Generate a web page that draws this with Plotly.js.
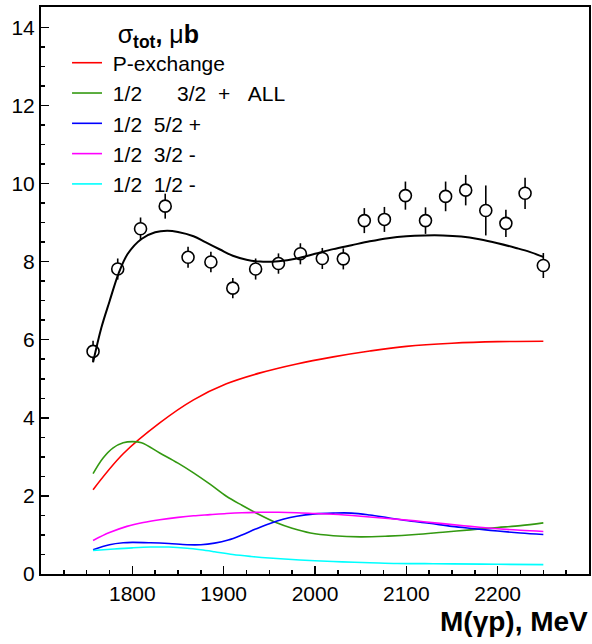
<!DOCTYPE html>
<html>
<head>
<meta charset="utf-8">
<script src="https://cdn.plot.ly/plotly-3.0.1.min.js"></script>
<style>html,body{margin:0;padding:0;background:#fff;}#chart{width:592px;height:644px;}</style>
</head>
<body>
<div id="chart"></div>
<script>
// Measured cross section (data points)
const massPts  = [1757,1784,1809,1836,1861,1886,1910,1935,1960,1984,2008,2031,2054,2076,2099,2121,2143,2165,2187,2209,2230,2250];
const sigmaPts = [5.70,7.81,8.84,9.42,8.11,7.99,7.32,7.81,7.95,8.20,8.08,8.07,9.05,9.08,9.69,9.05,9.67,9.83,9.31,8.98,9.75,7.90];
const sigmaErr = [0.27,0.27,0.29,0.32,0.27,0.26,0.26,0.27,0.26,0.27,0.27,0.27,0.32,0.32,0.36,0.34,0.38,0.39,0.64,0.35,0.40,0.32];

// Total fit (black)
const fitM = [1757,1766,1775,1785,1795,1810,1825,1838,1850,1867,1880,1896,1910,1925,1940,1960,1980,2000,2020,2040,2060,2080,2100,2120,2140,2160,2180,2200,2220,2235,2250];
const fitS = [5.42,6.30,6.98,7.70,8.20,8.58,8.75,8.79,8.76,8.65,8.50,8.31,8.15,8.05,8.00,8.01,8.08,8.20,8.32,8.42,8.52,8.60,8.65,8.67,8.67,8.64,8.57,8.47,8.35,8.25,8.12];

// P-exchange (red)
const pexM = [1757,1790,1830,1867,1903,1940,1980,2020,2060,2100,2150,2200,2250];
const pexS = [2.16,3.08,3.87,4.46,4.87,5.15,5.38,5.56,5.71,5.83,5.91,5.95,5.96];

// 1/2 3/2 + ALL (green)
const allM = [1757,1768,1779,1790,1800,1810,1830,1850,1867,1885,1903,1920,1935,1958,1975,1995,2020,2050,2080,2110,2140,2170,2200,2225,2250];
const allS = [2.57,2.97,3.23,3.36,3.39,3.36,3.10,2.84,2.59,2.30,1.99,1.76,1.57,1.31,1.17,1.05,0.98,0.95,0.97,1.01,1.07,1.13,1.19,1.24,1.31];

// 1/2 5/2 + (blue)
const p52M = [1757,1775,1790,1800,1820,1840,1860,1875,1890,1905,1920,1935,1950,1965,1980,2000,2020,2040,2060,2080,2100,2125,2150,2175,2200,2225,2250];
const p52S = [0.62,0.75,0.80,0.81,0.80,0.78,0.75,0.75,0.79,0.87,1.00,1.15,1.29,1.40,1.48,1.54,1.56,1.56,1.51,1.44,1.37,1.30,1.22,1.16,1.10,1.05,1.01];

// 1/2 3/2 - (magenta)
const m32M = [1757,1775,1794,1812,1830,1850,1867,1885,1903,1920,1940,1960,1980,2000,2020,2050,2080,2110,2140,2170,2200,2225,2250];
const m32S = [0.86,1.06,1.22,1.32,1.39,1.45,1.49,1.52,1.55,1.57,1.58,1.58,1.57,1.55,1.53,1.48,1.42,1.36,1.29,1.22,1.16,1.12,1.09];

// 1/2 1/2 - (cyan)
const m12M = [1757,1780,1800,1820,1840,1860,1875,1890,1910,1930,1950,1975,2000,2030,2060,2090,2120,2150,2200,2250];
const m12S = [0.60,0.64,0.67,0.69,0.69,0.66,0.62,0.57,0.50,0.45,0.41,0.37,0.34,0.31,0.29,0.27,0.265,0.26,0.25,0.24];

const xTicks = [1800,1900,2000,2100,2200];
const yTicks = [0,2,4,6,8,10,12,14];

const names = [
  '\u00a0P-exchange',
  '\u00a01/2\u00a0\u00a0\u00a0\u00a0\u00a0\u00a03/2\u00a0\u00a0+\u00a0\u00a0\u00a0ALL',
  '\u00a01/2\u00a0\u00a05/2\u00a0+',
  '\u00a01/2\u00a0\u00a03/2\u00a0-',
  '\u00a01/2\u00a0\u00a01/2\u00a0-'
];

const FONT = 'Liberation Sans, Arial, Helvetica, sans-serif';

const traces = [
  {x: massPts, y: sigmaPts, type: 'scatter', mode: 'markers', showlegend: false,
   error_y: {type: 'data', array: sigmaErr, visible: true, color: '#000', thickness: 1.6, width: 0},
   marker: {symbol: 'circle', size: 12, color: '#fff', line: {color: '#000', width: 1.6}}},
  {x: fitM, y: fitS, type: 'scatter', mode: 'lines', showlegend: false,
   line: {color: '#000', width: 2, shape: 'spline'}},
  {x: pexM, y: pexS, type: 'scatter', mode: 'lines', name: names[0], line: {color: '#ff0000', width: 1.6, shape: 'spline'}},
  {x: allM, y: allS, type: 'scatter', mode: 'lines', name: names[1], line: {color: '#339911', width: 1.6, shape: 'spline'}},
  {x: p52M, y: p52S, type: 'scatter', mode: 'lines', name: names[2], line: {color: '#0000ff', width: 1.6, shape: 'spline'}},
  {x: m32M, y: m32S, type: 'scatter', mode: 'lines', name: names[3], line: {color: '#ff00ff', width: 1.6, shape: 'spline'}},
  {x: m12M, y: m12S, type: 'scatter', mode: 'lines', name: names[4], line: {color: '#00ffff', width: 1.6, shape: 'spline'}}
];

const layout = {
  width: 592, height: 644,
  margin: {l: 41, r: 3, t: 7, b: 70, pad: 0},
  paper_bgcolor: '#fff', plot_bgcolor: '#fff',
  font: {family: FONT, color: '#000', size: 21},
  showlegend: true,
  legend: {
    x: 0.0475, xanchor: 'left', y: 0.9946, yanchor: 'top',
    bgcolor: 'rgba(0,0,0,0)', borderwidth: 0,
    font: {family: FONT, size: 21, color: '#000'},
    title: {text: '\u00a0\u00a0\u00a0\u00a0\u00a0\u00a0\u00a0σ<b><sub>tot</sub>, </b>μ<b>b</b>', font: {family: FONT, size: 25, color: '#000'}},
    tracegroupgap: 0
  },
  xaxis: {
    range: [1700, 2300], tickmode: 'array', tickvals: xTicks, ticktext: xTicks.map(String),
    ticks: 'inside', ticklen: 8, tickwidth: 1.5, tickcolor: '#000',
    minor: {dtick: 25, tick0: 1700, ticks: 'inside', ticklen: 4, tickwidth: 1.5, tickcolor: '#000'},
    showline: true, linecolor: '#000', linewidth: 2, mirror: true,
    showgrid: false, zeroline: false,
    tickfont: {family: FONT, size: 21, color: '#000'}
  },
  yaxis: {
    range: [0, 14.52], tickmode: 'array', tickvals: yTicks, ticktext: yTicks.map(String),
    ticks: 'inside', ticklen: 8, tickwidth: 1.5, tickcolor: '#000',
    minor: {dtick: 0.5, tick0: 0, ticks: 'inside', ticklen: 4, tickwidth: 1.5, tickcolor: '#000'},
    showline: true, linecolor: '#000', linewidth: 2, mirror: true,
    showgrid: false, zeroline: false,
    tickfont: {family: FONT, size: 21, color: '#000'}
  },
  annotations: [
    {text: '<b>M(γp), MeV</b>', xref: 'paper', yref: 'paper', x: 1.002, y: -0.083,
     xanchor: 'right', yanchor: 'middle', showarrow: false,
     font: {family: FONT, size: 28, color: '#000'}}
  ]
};

Plotly.newPlot('chart', traces, layout, {staticPlot: true, displayModeBar: false});
</script>
</body>
</html>
